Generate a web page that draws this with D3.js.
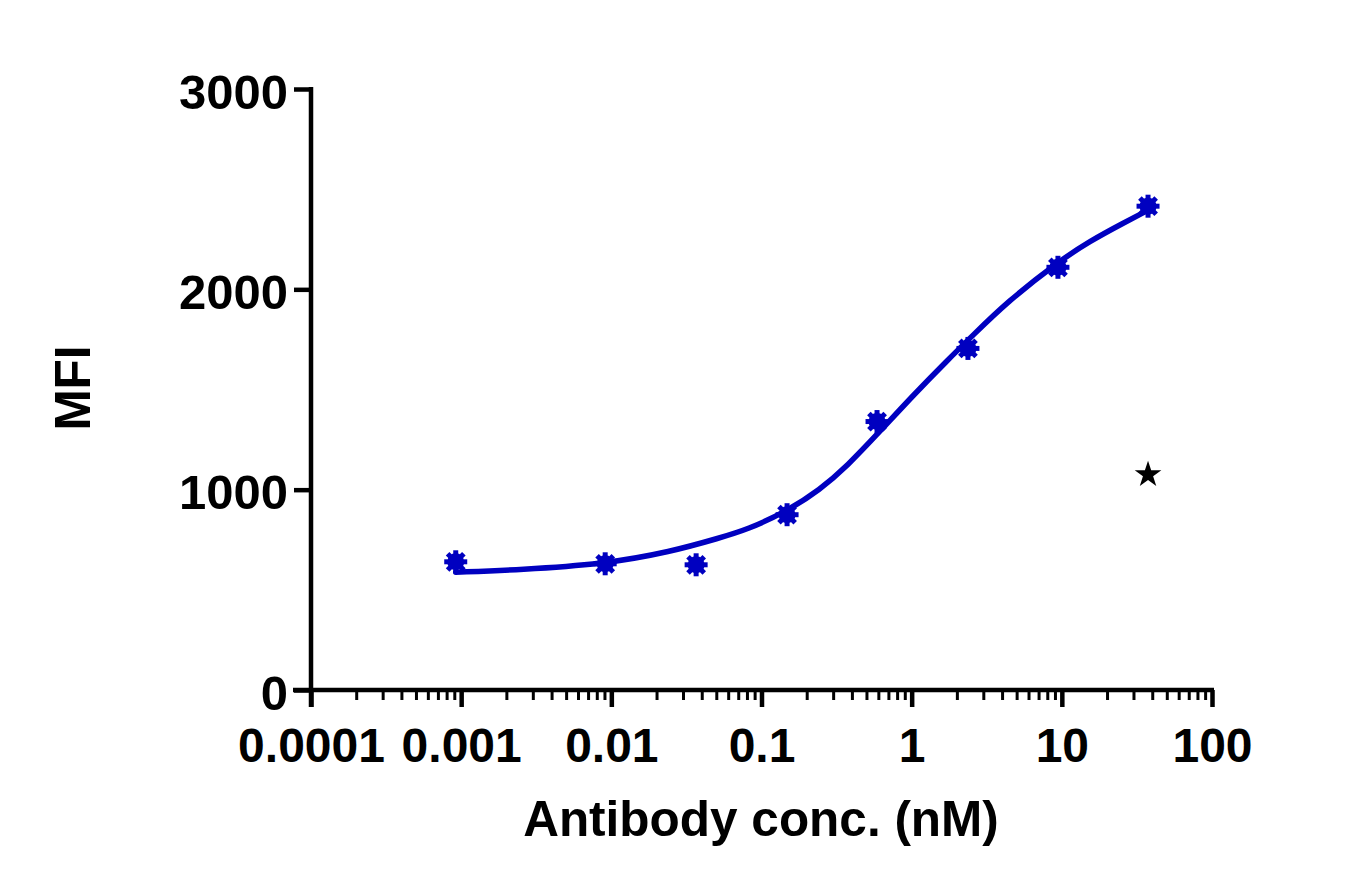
<!DOCTYPE html>
<html lang="en">

<head>
  <meta charset="UTF-8" />
  <script src="https://cdn.jsdelivr.net/npm/d3@7/dist/d3.min.js"></script>
  <title>MFI vs antibody concentration</title>
  <style>
    body { margin: 0; background: #fff; }
    text { font-family: "Liberation Sans", Arial, sans-serif; font-weight: bold; fill: #000; }
  </style>
</head>

<body>
  <svg width="1366" height="892"></svg>
  <script>
    // measured points (nM, MFI)
    const conc = [0.00092, 0.0091, 0.0367, 0.148, 0.588, 2.37, 9.42, 37.5];
    const mfi = [640, 630, 625, 875, 1340, 1705, 2110, 2415];

    // fitted curve
    const curveConc = [0.00092, 0.0025, 0.0088, 0.025, 0.053, 0.08, 0.147, 0.245, 0.37,
      0.615, 1.02, 1.71, 2.57, 4.3, 9.25, 15.4, 25.6, 37.5];
    const curveMfi = [588, 600, 628, 690, 760, 800, 891, 1000, 1116,
      1291, 1470, 1642, 1772, 1935, 2133, 2241, 2330, 2395];

    // lone star marker
    const starConc = [37.5];
    const starMfi = [1075];

    const xTicks = [0.0001, 0.001, 0.01, 0.1, 1, 10, 100];
    const xTickLabels = ["0.0001", "0.001", "0.01", "0.1", "1", "10", "100"];
    const yTicks = [0, 1000, 2000, 3000];

    const blue = "#0000c0";
    const svg = d3.select("svg");

    const x = d3.scaleLog().domain([1e-4, 100]).range([311, 1212]);
    const y = d3.scaleLinear().domain([0, 3000]).range([690, 89]);

    // minor ticks 2..9 of every decade
    const minor = [];
    for (let e = -4; e < 2; e++) {
      for (let m = 2; m <= 9; m++) minor.push(m * Math.pow(10, e));
    }

    const gx = svg.append("g").attr("transform", "translate(0,690)");
    gx.append("g")
      .call(d3.axisBottom(x).tickValues(minor).tickSize(10).tickFormat(""))
      .call(g => g.select(".domain").remove())
      .selectAll("line").attr("stroke", "#000").attr("stroke-width", 3);
    gx.append("g")
      .call(d3.axisBottom(x).tickValues(xTicks).tickSize(17).tickSizeOuter(0)
        .tickFormat((d, i) => xTickLabels[i]))
      .call(g => g.select(".domain").attr("stroke", "#000").attr("stroke-width", 4.5)
        .attr("d", "M" + (x.range()[0] - 18) + ",0H" + (x.range()[1] + 2)))
      .call(g => g.selectAll("line").attr("stroke", "#000").attr("stroke-width", 4.5))
      .call(g => g.selectAll("text").attr("y", 38).style("font-size", "48px"));

    svg.append("g")
      .attr("transform", "translate(311,0)")
      .call(d3.axisLeft(y).tickValues(yTicks).tickSize(17).tickSizeOuter(0).tickFormat(d3.format("d")))
      .call(g => g.select(".domain").attr("stroke", "#000").attr("stroke-width", 4.5)
        .attr("d", "M0," + (y.range()[1] - 2) + "V707"))
      .call(g => g.selectAll("line").attr("stroke", "#000").attr("stroke-width", 4.5))
      .call(g => g.selectAll("text").attr("x", -23).attr("dy", "0.39em").style("font-size", "49px"));

    svg.selectAll(".tick text").attr("fill", "#000");

    // axis titles
    svg.append("text")
      .attr("x", 761).attr("y", 836)
      .attr("text-anchor", "middle")
      .style("font-size", "49.5px")
      .text("Antibody conc. (nM)");
    svg.append("text")
      .attr("transform", "translate(90,388) rotate(-90)")
      .attr("text-anchor", "middle")
      .style("font-size", "49.5px")
      .text("MFI");

    // fit line
    const line = d3.line()
      .x((d, i) => x(curveConc[i]))
      .y(d => y(d))
      .curve(d3.curveBasis);
    svg.append("path")
      .datum(curveMfi)
      .attr("d", line)
      .attr("fill", "none")
      .attr("stroke", blue)
      .attr("stroke-width", 5.5)
      .attr("stroke-linecap", "round");

    // asterisk-like markers
    const pts = svg.selectAll(".pt")
      .data(mfi)
      .enter()
      .append("g")
      .attr("class", "pt")
      .attr("transform", (d, i) => `translate(${x(conc[i])},${y(d)})`);
    pts.append("circle").attr("r", 8.5).attr("fill", blue);
    [0, 45, 90, 135].forEach(a => {
      pts.append("line")
        .attr("x1", -11.5).attr("x2", 11.5)
        .attr("transform", `rotate(${a})`)
        .attr("stroke", blue)
        .attr("stroke-width", 5);
    });

    svg.selectAll(".star")
      .data(starMfi)
      .enter()
      .append("path")
      .attr("class", "star")
      .attr("d", d3.symbol().type(d3.symbolStar).size(220))
      .attr("transform", (d, i) => `translate(${x(starConc[i])},${y(d)})`)
      .attr("fill", "#000");
  </script>
</body>

</html>
